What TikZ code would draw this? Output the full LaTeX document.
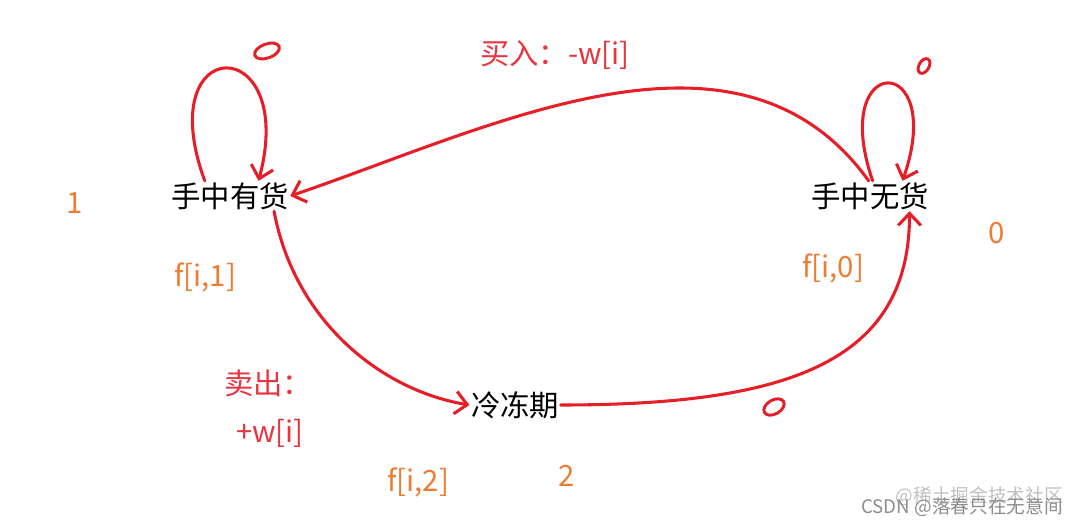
\documentclass[tikz,border=0pt]{standalone}
\usepackage{fontspec}
\setmainfont{Noto Sans CJK SC}
\usetikzlibrary{arrows.meta}
\definecolor{PenRed}{RGB}{230,30,40}
\definecolor{TagRed}{RGB}{232,52,60}
\definecolor{TagOrange}{RGB}{237,125,49}
\definecolor{MarkGray}{RGB}{140,140,140}

\begin{document}
\begin{tikzpicture}[x=0.75pt,y=-0.75pt]
				\tikzset{
					st/.style={font=\fontsize{22}{26}\selectfont, inner sep=1pt, text=black},
					e/.style={-{Straight Barb[length=9pt,width=17pt]}, draw=PenRed, line width=2.3pt,
						line cap=round, line join=round},
					zero/.style={draw=PenRed, line width=2.2pt},
					tag/.style={font=\fontsize{22}{26}\selectfont, inner sep=1pt, text=TagOrange},
					act/.style={font=\fontsize{22}{26}\selectfont, inner sep=1pt, text=TagRed},
					wm/.style={font=\fontsize{14}{16}\selectfont, inner sep=0pt, anchor=east}
				}
				\useasboundingbox (0,0) rectangle (1081,525);
				
				% ======= States =======
				\node[st] (has)  at (230,196) {手中有货};
				\node[st] (none) at (870,196) {手中无货};
				\node[st] (cold) at (515,405) {冷冻期};
				
				% ======= Transitions =======
				\draw[e] (has.149) .. controls +(-55,-150) and +(40,-150) .. (has.28);
				\draw[e] (none.80) .. controls +(-45,-130) and +(45,-130) .. (none.25);
				\draw[e] (none.95) .. controls +(-130,-180) and +(205,-70) .. (has.east);
				\draw[e] (has.341) .. controls +(20,108) and +(-90,-15) .. (cold.west);
				\draw[e] (cold.east) .. controls +(230,0) and +(0,150) .. (none.339);
				
				% ======= Hand-drawn zero costs =======
				\draw[zero, rotate around={20:(267,51)}] (267,51) ellipse [x radius=13, y radius=7];
				\draw[zero, rotate around={-30:(924,66)}] (924,66) ellipse [x radius=5, y radius=8];
				\draw[zero, rotate around={30:(774,407)}] (774,407) ellipse [x radius=11, y radius=7];
				
				% ======= Labels =======
				\node[act] (buy)   at (555,55)  {买入：-w[i]};
				\node[act] (sell)  at (268,383) {卖出：};
				\node[act] (sellw) at (270,433) {+w[i]};
				\node[tag] (i1) at (75,203)  {1};
				\node[tag] (i0) at (997,233) {0};
				\node[tag] (i2) at (567,476) {2};
				\node[tag] (f1) at (205,277) {f[i,1]};
				\node[tag] (f0) at (833,268) {f[i,0]};
				\node[tag] (f2) at (418,482) {f[i,2]};
				
				% ======= Watermark =======
				\node[wm, text=MarkGray!55] (wmj) at (1063,496) {@稀土掘金技术社区};
				\node[wm, text=MarkGray] (wmc) at (1063,507) {CSDN @落春只在无意间};
			\end{tikzpicture}
\end{document}
